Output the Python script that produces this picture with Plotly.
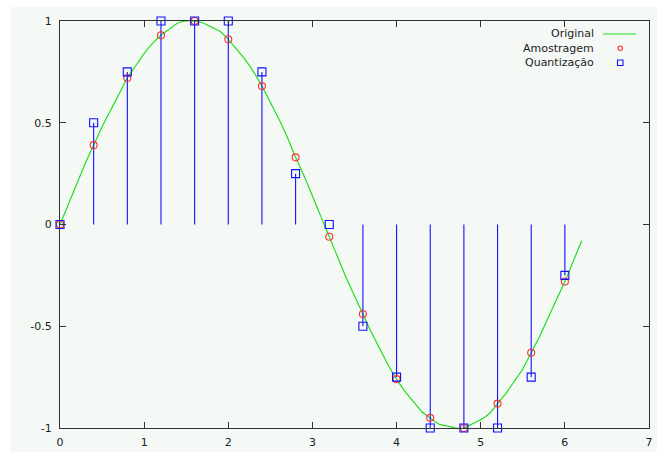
import plotly.graph_objects as go

# ---- data ----
curve_x = [0.0, 0.1, 0.2, 0.3, 0.4, 0.5, 0.6, 0.7, 0.8, 0.9, 1.0, 1.1, 1.2, 1.3, 1.4, 1.5,
           1.6, 1.7, 1.8, 1.9, 2.0, 2.1, 2.2, 2.3, 2.4, 2.5, 2.6, 2.7, 2.8, 2.9, 3.0, 3.1,
           3.2, 3.3, 3.4, 3.5, 3.6, 3.7, 3.8, 3.9, 4.0, 4.1, 4.2, 4.3, 4.4, 4.5, 4.6, 4.7,
           4.8, 4.9, 5.0, 5.1, 5.2, 5.3, 5.4, 5.5, 5.6, 5.7, 5.8, 5.9, 6.0, 6.1, 6.2]
curve_y = [0.00, 0.10, 0.20, 0.30, 0.39, 0.48, 0.56, 0.64, 0.72, 0.78, 0.84, 0.89, 0.93, 0.96, 0.99, 1.00,
           1.00, 0.99, 0.97, 0.95, 0.91, 0.86, 0.81, 0.75, 0.68, 0.60, 0.52, 0.43, 0.33, 0.24, 0.14, 0.04,
           -0.06, -0.16, -0.26, -0.35, -0.44, -0.53, -0.61, -0.69, -0.76, -0.82, -0.87, -0.92, -0.95, -0.98, -0.99, -1.00,
           -1.00, -0.98, -0.96, -0.93, -0.88, -0.83, -0.77, -0.71, -0.63, -0.55, -0.46, -0.37, -0.28, -0.18, -0.08]

sample_x = [0.0, 0.4, 0.8, 1.2, 1.6, 2.0, 2.4, 2.8, 3.2, 3.6, 4.0, 4.4, 4.8, 5.2, 5.6, 6.0]
sample_y = [0.00, 0.39, 0.72, 0.93, 1.00, 0.91, 0.68, 0.33, -0.06, -0.44, -0.76, -0.95, -1.00, -0.88, -0.63, -0.28]
quant_y = [0, 0.5, 0.75, 1, 1, 1, 0.75, 0.25, 0, -0.5, -0.75, -1, -1, -1, -0.75, -0.25]

x_ticks = [0, 1, 2, 3, 4, 5, 6, 7]
x_tick_text = ["0", "1", "2", "3", "4", "5", "6", "7"]
y_ticks = [-1, -0.5, 0, 0.5, 1]
y_tick_text = ["-1", "-0.5", "0", "0.5", "1"]

names = ["Original", "Amostragem", "Quantização"]

GREEN = "#22dd22"
RED = "#ff3030"
BLUE = "#1010ff"
AXIS = "#333333"
TINT = "#f5f9f6"
FONT = "DejaVu Sans"

# impulses (stems) from 0 to quantised value
stem_x, stem_y = [], []
for xv, qv in zip(sample_x, quant_y):
    stem_x += [xv, xv, None]
    stem_y += [0, qv, None]

fig = go.Figure()
fig.add_trace(go.Scatter(x=curve_x, y=curve_y, mode="lines", name=names[0],
                         line=dict(color=GREEN, width=1.2, shape="spline", smoothing=0.5),
                         showlegend=False))
fig.add_trace(go.Scatter(x=stem_x, y=stem_y, mode="lines", name="impulsos",
                         line=dict(color=BLUE, width=1.1), showlegend=False, hoverinfo="skip"))
fig.add_trace(go.Scatter(x=sample_x, y=sample_y, mode="markers", name=names[1],
                         marker=dict(symbol="circle-open", size=7, color=RED, line=dict(width=1.1)),
                         cliponaxis=False, showlegend=False))
fig.add_trace(go.Scatter(x=sample_x, y=quant_y, mode="markers", name=names[2],
                         marker=dict(symbol="square-open", size=8, color=BLUE, line=dict(width=1.1)),
                         cliponaxis=False, showlegend=False))

W, H = 657, 452
L, R, T, B = 60, 8, 21, 24
pw, ph = W - L - R, H - T - B

def px(x):  # page x pixel -> paper fraction
    return (x - L) / pw

def py(y):  # page y pixel -> paper fraction
    return (H - B - y) / ph

shapes = [
    # white strips outside the tinted canvas (left and top)
    dict(type="rect", xref="paper", yref="paper", x0=px(0), x1=px(10), y0=py(H), y1=py(0),
         fillcolor="white", line=dict(width=0), layer="below"),
    dict(type="rect", xref="paper", yref="paper", x0=px(0), x1=px(W), y0=py(7), y1=py(0),
         fillcolor="white", line=dict(width=0), layer="below"),
    # legend keys
    dict(type="line", xref="paper", yref="paper", x0=px(603), x1=px(636), y0=py(34), y1=py(34),
         line=dict(color=GREEN, width=1.2)),
    dict(type="circle", xref="paper", yref="paper", x0=px(618), x1=px(622.5), y0=py(46), y1=py(50.5),
         line=dict(color=RED, width=1.1)),
    dict(type="rect", xref="paper", yref="paper", x0=px(617.5), x1=px(623), y0=py(60), y1=py(65.5),
         line=dict(color=BLUE, width=1.1)),
]

annotations = []
for nm, yy in zip(names, [34, 48, 63]):
    annotations.append(dict(text=nm, xref="paper", yref="paper", x=px(596), y=py(yy),
                            xanchor="right", yanchor="middle", showarrow=False,
                            font=dict(family=FONT, size=11, color="#222222")))

fig.update_layout(
    width=W, height=H,
    margin=dict(l=L, r=R, t=T, b=B, pad=0, autoexpand=False),
    paper_bgcolor=TINT, plot_bgcolor=TINT,
    font=dict(family=FONT, size=11, color="#222222"),
    shapes=shapes, annotations=annotations,
    showlegend=False,
    xaxis=dict(range=[0, 7], tickvals=x_ticks, ticktext=x_tick_text, automargin=False,
               showgrid=False, zeroline=False, showline=True, linecolor=AXIS, linewidth=1,
               mirror="ticks", ticks="inside", ticklen=6, tickcolor=AXIS, tickwidth=1,
               ticklabelstandoff=4),
    yaxis=dict(range=[-1, 1], tickvals=y_ticks, ticktext=y_tick_text, automargin=False,
               showgrid=False, zeroline=False, showline=True, linecolor=AXIS, linewidth=1,
               mirror="ticks", ticks="inside", ticklen=6, tickcolor=AXIS, tickwidth=1,
               ticklabelstandoff=5),
)

fig.write_html("out.html", post_script="document.body.style.margin='0';",
               config={"displayModeBar": False})
